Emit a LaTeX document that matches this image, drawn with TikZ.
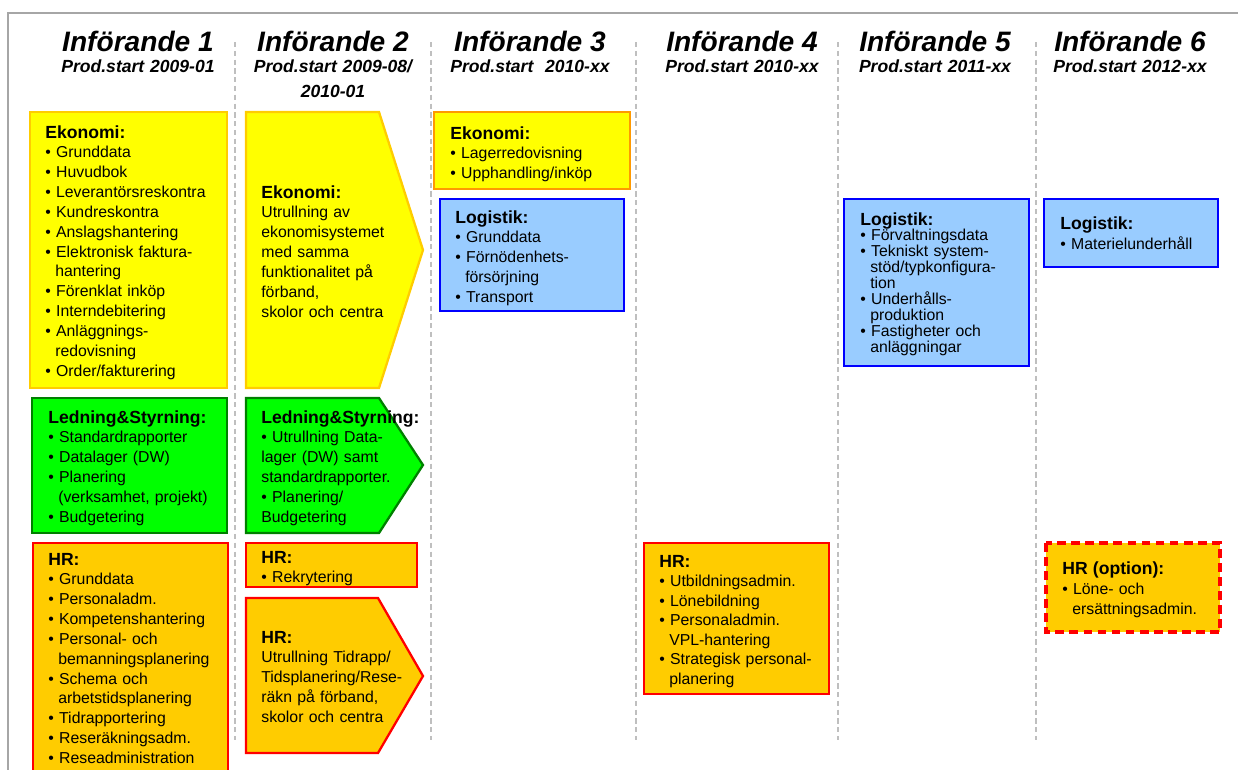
\documentclass[tikz,border=0pt]{standalone}
\usepackage{fontspec}
\setmainfont{Liberation Sans}
\definecolor{ekoyel}{HTML}{FFFF00}
\definecolor{ekoline}{HTML}{FFCC00}
\definecolor{ekoorange}{HTML}{FF9900}
\definecolor{ledgreen}{HTML}{00FF00}
\definecolor{ledline}{HTML}{008000}
\definecolor{hrfill}{HTML}{FFCC00}
\definecolor{logfill}{HTML}{99CCFF}
\definecolor{logline}{HTML}{0000FF}
\definecolor{sepgray}{HTML}{BFBFBF}
\definecolor{framegray}{HTML}{A6A6A6}
\newcommand{\hd}[1]{{\fontsize{10}{12}\selectfont\bfseries #1}}
\newcommand{\itm}{\textbullet\ }
\newcommand{\ind}{\hspace*{0.628em}}
\tikzset{
  eko/.style={fill=ekoyel, draw=ekoline, line width=1.3pt},
  led/.style={fill=ledgreen, draw=ledline, line width=1.3pt},
  hrbox/.style={fill=hrfill, draw=red, line width=1.3pt},
  logi/.style={fill=logfill, draw=logline, line width=1.6pt},
  txt/.style={anchor=base west, inner sep=0pt, text width=5cm, align=left,
    font=\fontsize{9}{11.3}\selectfont},
  ttl/.style={anchor=base, inner sep=0pt, font=\fontsize{16}{19}\selectfont\bfseries\itshape},
  sub/.style={anchor=base, inner sep=0pt, text width=4cm, align=center,
    font=\fontsize{10}{14.5}\selectfont\bfseries\itshape}
}
\begin{document}
\begin{tikzpicture}[x=0.02cm, y=-0.02cm]
		\useasboundingbox (0,0) rectangle (1238,769);
		\clip (0,0) rectangle (1238,769);
		%frame
		\draw[framegray, line width=1.2pt] (8,780) -- (8,13) -- (1250,13);
		
		%separators
		\foreach \x in {235, 431, 636, 838, 1036}{
			\draw[sepgray, line width=1pt, dash pattern=on 3pt off 2pt] (\x,42) -- (\x,740);
		}
		
		%headers
		\foreach \x/\n in {138/1, 333/2, 530/3, 742/4, 935/5, 1130/6}{
			\node[ttl] (t\n) at (\x,51) {Införande \n};
		}
		\node[sub] (s1) at (138,72) {Prod.start 2009-01};
		\node[sub] (s2) at (333,72) {Prod.start 2009-08/\\2010-01};
		\node[sub] (s3) at (530,72) {Prod.start\ \ 2010-xx};
		\node[sub] (s4) at (742,72) {Prod.start 2010-xx};
		\node[sub] (s5) at (935,72) {Prod.start 2011-xx};
		\node[sub] (s6) at (1130,72) {Prod.start 2012-xx};
		
		%Ekonomi
		\filldraw[eko] (30,112) rectangle (227,388);
		\filldraw[eko] (246,112) -- (379,112) -- (423,250) -- (379,388) -- (246,388) -- cycle;
		\filldraw[eko, draw=ekoorange] (434,112) rectangle (630,189);
		\node[txt] (eko1) at (45,138) {\hd{Ekonomi:}\\ \itm Grunddata\\ \itm Huvudbok\\
			\itm Leverantörsreskontra\\ \itm Kundreskontra\\ \itm Anslagshantering\\
			\itm Elektronisk faktura-\\ \ind hantering\\ \itm Förenklat inköp\\
			\itm Interndebitering\\ \itm Anläggnings-\\ \ind redovisning\\ \itm Order/fakturering};
		\node[txt] (eko2) at (261,198) {\hd{Ekonomi:}\\ Utrullning av\\ ekonomisystemet\\
			med samma\\ funktionalitet på\\ förband,\\ skolor och centra};
		\node[txt] (eko3) at (450,139) {\hd{Ekonomi:}\\ \itm Lagerredovisning\\ \itm Upphandling/inköp};
		
		%Ledning & Styrning
		\filldraw[led] (32,398) rectangle (227,533);
		\filldraw[led] (246,398) -- (379,398) -- (423,465) -- (379,533) -- (246,533) -- cycle;
		\node[txt] (led1) at (48,423) {\hd{Ledning\&Styrning:}\\ \itm Standardrapporter\\
			\itm Datalager (DW)\\ \itm Planering\\ \ind (verksamhet, projekt)\\ \itm Budgetering};
		\node[txt] (led2) at (261,423) {\hd{Ledning\&Styrning:}\\ \itm Utrullning Data-\\
			lager (DW) samt\\ standardrapporter.\\ \itm Planering/\\ Budgetering};
		
		%HR
		\filldraw[hrbox] (33,543) rectangle (228,790);
		\filldraw[hrbox] (246,543) rectangle (417,587);
		\filldraw[hrbox] (246,598) -- (378,598) -- (423,676) -- (378,753) -- (246,753) -- cycle;
		\filldraw[hrbox] (644,543) rectangle (829,694);
		\filldraw[hrbox, line width=2.2pt, dash pattern=on 5pt off 3pt] (1046,543) rectangle (1220,632);
		\node[txt] (hr1) at (48,565) {\hd{HR:}\\ \itm Grunddata\\ \itm Personaladm.\\
			\itm Kompetenshantering\\ \itm Personal- och\\ \ind bemanningsplanering\\
			\itm Schema och\\ \ind arbetstidsplanering\\ \itm Tidrapportering\\
			\itm Reseräkningsadm.\\ \itm Reseadministration};
		\node[txt] (hr2) at (261,563) {\hd{HR:}\\ \itm Rekrytering};
		\node[txt] (hr3) at (261,643) {\hd{HR:}\\ Utrullning Tidrapp/\\ Tidsplanering/Rese-\\
			räkn på förband,\\ skolor och centra};
		\node[txt, font=\fontsize{9}{11.1}\selectfont] (hr4) at (659,567) {\hd{HR:}\\
			\itm Utbildningsadmin.\\ \itm Lönebildning\\ \itm Personaladmin.\\
			\ind VPL-hantering\\ \itm Strategisk personal-\\ \ind planering};
		\node[txt, font=\fontsize{9}{11.6}\selectfont] (hr6) at (1062,574) {\hd{HR (option):}\\
			\itm Löne- och\\ \ind ersättningsadmin.};
		
		%Logistik
		\filldraw[logi] (440,199) rectangle (624,311);
		\filldraw[logi] (844,199) rectangle (1029,366);
		\filldraw[logi] (1044,199) rectangle (1218,267);
		\node[txt] (log3) at (455,223) {\hd{Logistik:}\\ \itm Grunddata\\ \itm Förnödenhets-\\
			\ind försörjning\\ \itm Transport};
		\node[txt, font=\fontsize{9}{9.1}\selectfont] (log5) at (860,225) {\hd{Logistik:}\\
			\itm Förvaltningsdata\\ \itm Tekniskt system-\\ \ind stöd/typkonfigura-\\
			\ind tion\\ \itm Underhålls-\\ \ind produktion\\ \itm Fastigheter och\\ \ind anläggningar};
		\node[txt, font=\fontsize{9}{11.9}\selectfont] (log6) at (1060,229) {\hd{Logistik:}\\
			\itm Materielunderhåll};
\end{tikzpicture}
\end{document}
